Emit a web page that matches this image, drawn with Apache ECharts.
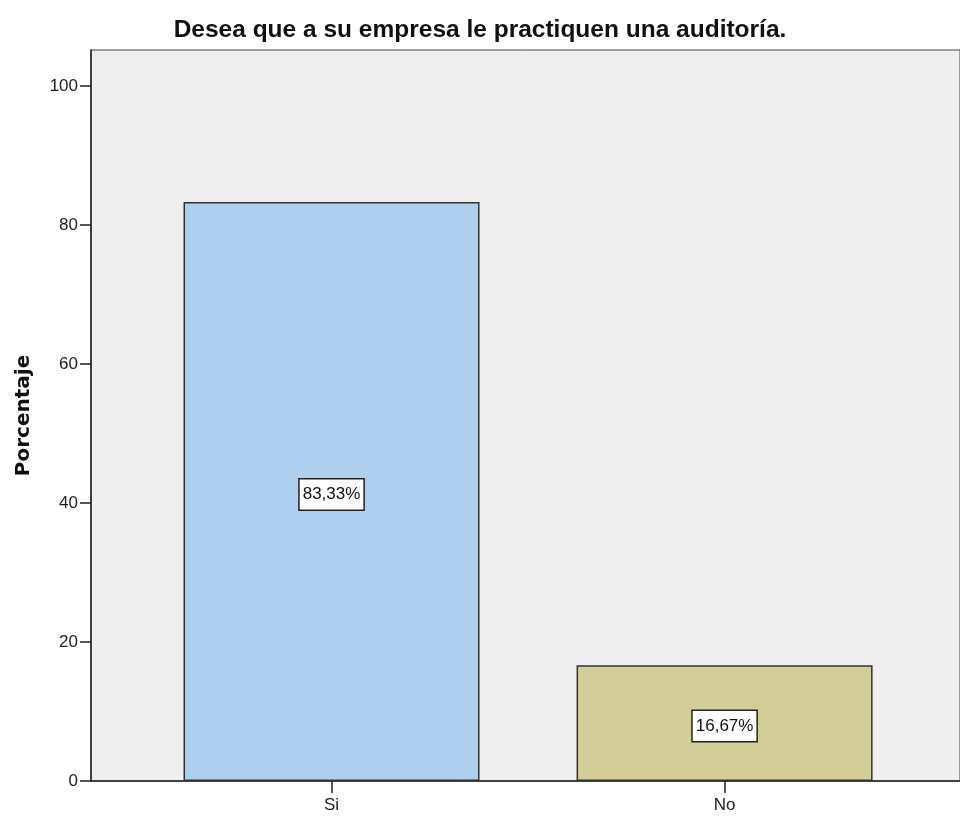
<!DOCTYPE html>
<html>
<head>
<meta charset="utf-8">
<script src="https://cdn.jsdelivr.net/npm/echarts@6/dist/echarts.min.js"></script>
<style>
  html, body { margin: 0; padding: 0; background: #fff; }
  #chart { width: 960px; height: 816px; }
</style>
</head>
<body>
<div id="chart"></div>
<script>
const categories = ['Si', 'No']
const percentages = [83.33, 16.67]
const barColors = ['#aecfee', '#d3cd97']
const yTicks = [0, 20, 40, 60, 80, 100]

const chart = echarts.init(document.getElementById('chart'), null, { renderer: 'canvas' })

function fmtPct (v) {
    return v.toFixed(2).replace('.', ',') + '%'
}

chart.setOption({
    animation: false,
    title: {
        text: 'Desea que a su empresa le practiquen una auditoría.',
        left: 'center',
        top: 13,
        textStyle: {
            fontFamily: 'Liberation Sans',
            fontSize: 24.5,
            fontWeight: 'bold',
            color: '#111'
        }
    },
    grid: {
        left: 91,
        right: 0,
        top: 50,
        bottom: 35,
        show: true,
        backgroundColor: '#efefef',
        borderColor: '#444',
        borderWidth: 1
    },
    xAxis: {
        type: 'value',
        min: -0.612,
        max: 1.599,
        splitLine: { show: false },
        axisLine: { show: true, onZero: false, lineStyle: { color: '#222', width: 1.5 } },
        axisTick: {
            show: true,
            customValues: categories.map((c, i) => i),
            length: 12,
            lineStyle: { color: '#222', width: 1.5 }
        },
        axisLabel: {
            customValues: categories.map((c, i) => i),
            formatter: v => categories[Math.round(v)] || '',
            fontFamily: 'Liberation Sans',
            fontSize: 17,
            color: '#222',
            margin: 16
        }
    },
    yAxis: {
        type: 'value',
        min: 0,
        max: 105.2,
        name: 'Porcentaje',
        nameLocation: 'middle',
        nameGap: 57,
        nameTextStyle: {
            fontFamily: 'DejaVu Sans',
            fontSize: 20,
            fontWeight: 'bold',
            color: '#111'
        },
        splitLine: { show: false },
        axisLine: { show: true, onZero: false, lineStyle: { color: '#222', width: 1.5 } },
        axisTick: {
            show: true,
            customValues: yTicks,
            length: 11,
            lineStyle: { color: '#222', width: 1.5 }
        },
        axisLabel: {
            customValues: yTicks,
            fontFamily: 'Liberation Sans',
            fontSize: 17,
            color: '#222',
            margin: 13
        }
    },
    series: [{
        type: 'bar',
        barWidth: 296,
        data: percentages.map((v, i) => ({
            value: [i, v],
            itemStyle: { color: barColors[i] }
        })),
        itemStyle: {
            borderColor: '#333',
            borderWidth: 1.5
        },
        label: {
            show: true,
            position: 'inside',
            offset: [0, 3],
            formatter: p => fmtPct(p.value[1]),
            fontFamily: 'Liberation Sans',
            fontSize: 17,
            color: '#111',
            backgroundColor: '#fff',
            borderColor: '#222',
            borderWidth: 1.5,
            padding: [7, 3, 6, 3]
        }
    }]
})
</script>
</body>
</html>
